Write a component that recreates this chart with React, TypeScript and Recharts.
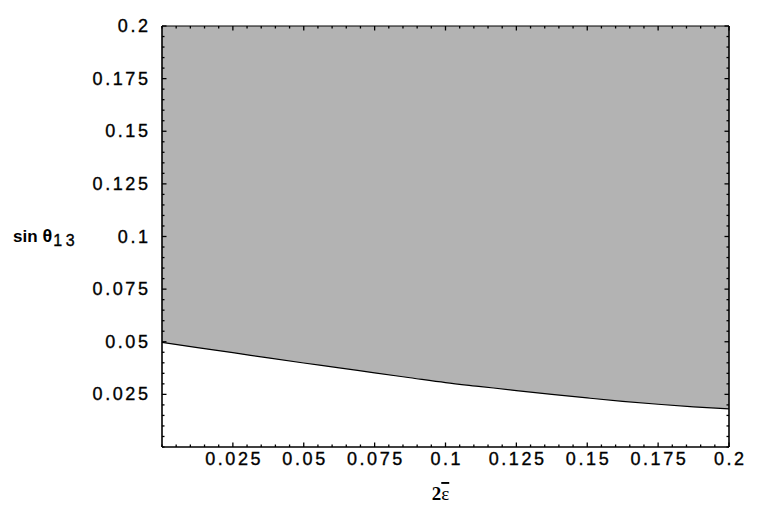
import { ComposedChart, Area, Line, XAxis, YAxis, Label } from "recharts";

// curve: lower edge of the allowed (grey) region
const epsValues = [
  0, 0.0125, 0.025, 0.0375, 0.05, 0.0625, 0.075, 0.0875, 0.1,
  0.1125, 0.125, 0.1375, 0.15, 0.1625, 0.175, 0.1875, 0.2,
];
const sinTheta13Min = [
  0.0497, 0.0472, 0.0448, 0.0423, 0.0399, 0.0376, 0.0352, 0.0329, 0.0306,
  0.0287, 0.0268, 0.025, 0.0233, 0.0217, 0.0203, 0.0191, 0.0181,
];
const sinTheta13Max = 0.2;

const majorTicks = [0.025, 0.05, 0.075, 0.1, 0.125, 0.15, 0.175, 0.2];
const allTicks = Array.from({ length: 41 }, (_, i) => +(i * 0.005).toFixed(3));
const axisDomain = [0, 0.2];

const data = epsValues.map((x, i) => ({
  x,
  lower: sinTheta13Min[i],
  band: [sinTheta13Min[i], sinTheta13Max],
}));

const SPACING = 2.6;
const labelStyle = {
  fill: "#000",
  stroke: "#000",
  strokeWidth: 0.35,
  fontSize: 18,
  fontFamily: "Liberation Sans, Arial, sans-serif",
  letterSpacing: SPACING,
};

// tickSize/tickMargin are 0, so x/y of the tick props sit on the frame line;
// marks point inwards like Mathematica frame ticks, majors longer than minors
type Side = "left" | "right" | "top" | "bottom";
const makeTick = (side: Side, withLabel: boolean) => (props: any) => {
  const { x, y, payload } = props;
  const major = majorTicks.includes(payload.value);
  const len = major ? 4.5 : 2.5;
  const inward = { left: [len, 0], right: [-len, 0], top: [0, len], bottom: [0, -len] }[side];
  return (
    <g>
      <line x1={x} y1={y} x2={x + inward[0]} y2={y + inward[1]} stroke="#000" strokeWidth={1.3} />
      {withLabel && major && side === "left" && (
        <text x={x - 14 + SPACING} y={y + 6} textAnchor="end" style={labelStyle}>
          {payload.value}
        </text>
      )}
      {withLabel && major && side === "bottom" && (
        <text x={x + SPACING / 2} y={y + 18} textAnchor="middle" style={labelStyle}>
          {payload.value}
        </text>
      )}
    </g>
  );
};

const frame = { stroke: "#000", strokeWidth: 1.6 };
const common = {
  type: "number" as const,
  domain: axisDomain,
  ticks: allTicks,
  interval: 0,
  tickSize: 0,
  tickMargin: 0,
  tickLine: false,
  allowDataOverflow: true,
};

export default function App() {
  return (
    <div style={{ position: "absolute", left: 0, top: 0, background: "#fff" }}>
      <ComposedChart
        width={763}
        height={520}
        data={data}
        margin={{ top: 0, right: 0, bottom: 0, left: 0 }}
      >
        {/* band on the top/right axes, boundary on the bottom/left ones: same domains, so all four frame sides get a scale */}
        <Area xAxisId="t" yAxisId="r" type="monotone" dataKey="band" fill="#b3b3b3" fillOpacity={1}
          stroke="none" isAnimationActive={false} />
        <Line xAxisId="b" yAxisId="l" type="monotone" dataKey="lower" stroke="#000" strokeWidth={1.2}
          dot={false} activeDot={false} isAnimationActive={false} />

        <XAxis xAxisId="b" {...common} dataKey="x" height={73} axisLine={frame} tick={makeTick("bottom", true)}>
          <Label
            content={({ viewBox }: any) => (
              <text x={viewBox.x + viewBox.width / 2 - 5} y={viewBox.y + 53} textAnchor="middle"
                fontFamily="Liberation Serif, Times New Roman, serif" fontWeight="bold" fontSize={19} fill="#000">
                2<tspan style={{ textDecoration: "overline" }} fontWeight="normal">ε</tspan>
              </text>
            )}
          />
        </XAxis>
        <XAxis xAxisId="t" orientation="top" {...common} dataKey="x" height={26}
          axisLine={{ stroke: "#000", strokeWidth: 1.2 }} tick={makeTick("top", false)} />

        <YAxis yAxisId="l" {...common} width={162} axisLine={frame} tick={makeTick("left", true)}>
          <Label
            content={({ viewBox }: any) => (
              <text x={viewBox.x + 13} y={viewBox.y + viewBox.height / 2 + 5} textAnchor="start"
                fontFamily="Liberation Sans, Arial, sans-serif" fontWeight="bold" fontSize={17} fill="#000">
                sin<tspan dx={5} fontSize={18}>θ</tspan>
                <tspan dx={1} dy={4} fontWeight="normal" fontSize={16} stroke="#000" strokeWidth={0.35}
                  letterSpacing={3.5}>13</tspan>
              </text>
            )}
          />
        </YAxis>
        <YAxis yAxisId="r" orientation="right" {...common} width={34} axisLine={frame} tick={makeTick("right", false)} />
      </ComposedChart>
    </div>
  );
}
